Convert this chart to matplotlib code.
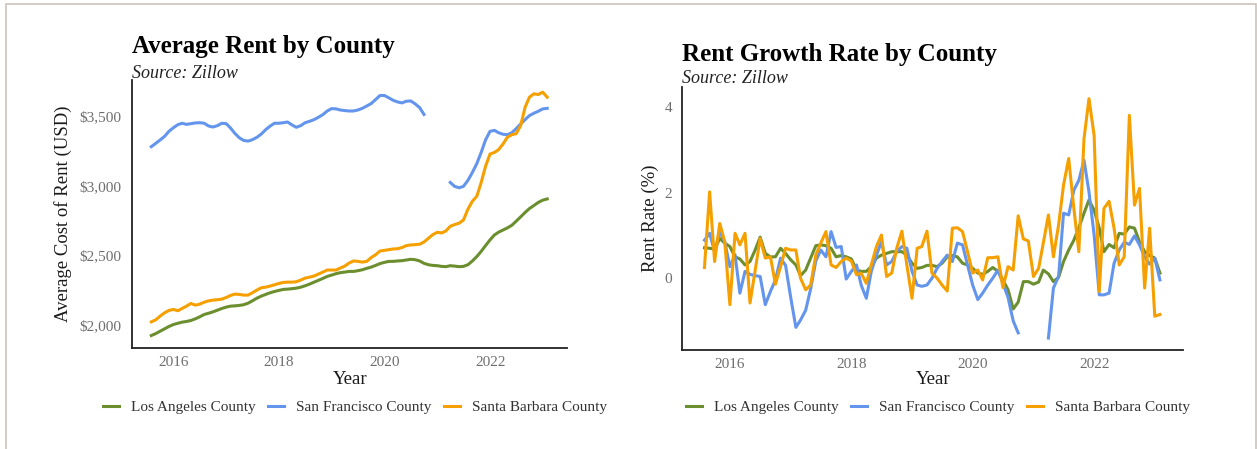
import numpy as np
import pandas as pd
import matplotlib
matplotlib.use("Agg")
import matplotlib.pyplot as plt
import matplotlib.dates as mdates
from matplotlib.ticker import FuncFormatter, FixedLocator
from matplotlib.patches import Rectangle

plt.rcParams['font.family'] = ['Liberation Serif', 'DejaVu Serif']

nan = np.nan

# monthly observations, Jul 2015 .. Jan 2023
dates = pd.date_range("2015-07-31", periods=91, freq="ME")

counties = ["Los Angeles County", "San Francisco County", "Santa Barbara County"]
colors = ["#6b8e2f", "#6495ed", "#f5a000"]

# average rent (USD)
rent_la = [1926, 1940, 1957, 1974, 1991, 2005, 2014, 2022, 2027, 2034,
           2046, 2060, 2077, 2086, 2096, 2108, 2120, 2130, 2137, 2139,
           2142, 2147, 2158, 2175, 2194, 2209, 2221, 2233, 2242, 2250,
           2257, 2259, 2262, 2266, 2273, 2283, 2295, 2309, 2322, 2336,
           2350, 2360, 2370, 2377, 2381, 2386, 2386, 2391, 2398, 2408,
           2417, 2429, 2442, 2451, 2458, 2458, 2461, 2463, 2468, 2473,
           2470, 2461, 2444, 2434, 2429, 2427, 2422, 2420, 2427, 2424,
           2420, 2422, 2434, 2461, 2492, 2530, 2571, 2612, 2648, 2667,
           2683, 2698, 2717, 2746, 2777, 2809, 2837, 2859, 2881, 2897,
           2906]
rent_sf = [3281, 3305, 3329, 3355, 3391, 3417, 3439, 3449, 3441, 3446,
           3451, 3453, 3449, 3429, 3422, 3432, 3449, 3446, 3413, 3377,
           3345, 3326, 3321, 3331, 3348, 3372, 3403, 3429, 3449, 3449,
           3453, 3458, 3437, 3420, 3432, 3453, 3463, 3475, 3492, 3511,
           3537, 3554, 3552, 3544, 3540, 3537, 3537, 3544, 3556, 3573,
           3590, 3619, 3648, 3648, 3631, 3614, 3602, 3595, 3607, 3609,
           3588, 3561, 3512, nan, nan, nan, nan, nan, 3024, 2996,
           2986, 2996, 3039, 3096, 3158, 3240, 3329, 3391, 3398, 3381,
           3370, 3367, 3381, 3410, 3444, 3475, 3504, 3521, 3535, 3552,
           3556]
rent_sb = [2024, 2039, 2065, 2089, 2106, 2113, 2104, 2120, 2137, 2156,
           2144, 2151, 2165, 2175, 2180, 2183, 2187, 2199, 2214, 2223,
           2221, 2216, 2216, 2233, 2252, 2269, 2273, 2281, 2290, 2300,
           2307, 2309, 2309, 2312, 2324, 2338, 2345, 2353, 2367, 2381,
           2396, 2396, 2396, 2410, 2424, 2446, 2461, 2458, 2453, 2458,
           2485, 2506, 2532, 2537, 2542, 2547, 2549, 2557, 2571, 2576,
           2578, 2581, 2597, 2624, 2650, 2667, 2662, 2676, 2710, 2722,
           2732, 2755, 2832, 2890, 2924, 3024, 3140, 3228, 3240, 3259,
           3300, 3348, 3367, 3374, 3432, 3564, 3636, 3660, 3655, 3672,
           3636]

# month over month rent growth (%)
growth_la = [0.71, 0.70, 0.68, 0.93, 0.82, 0.74, 0.50, 0.45, 0.31, 0.39,
             0.66, 0.96, 0.58, 0.50, 0.50, 0.70, 0.58, 0.43, 0.31, 0.06,
             0.19, 0.47, 0.76, 0.78, 0.76, 0.70, 0.50, 0.53, 0.50, 0.45,
             0.19, 0.16, 0.16, 0.27, 0.47, 0.54, 0.58, 0.62, 0.62, 0.62,
             0.54, 0.35, 0.23, 0.25, 0.30, 0.30, 0.27, 0.35, 0.50, 0.53,
             0.50, 0.35, 0.31, 0.23, 0.12, 0.09, 0.16, 0.25, 0.16, -0.04,
             -0.27, -0.72, -0.56, -0.08, -0.08, -0.14, -0.09, 0.19, 0.10, -0.08,
             0.02, 0.39, 0.66, 0.89, 1.18, 1.52, 1.83, 1.59, 1.17, 0.62,
             0.79, 0.71, 1.05, 1.03, 1.20, 1.17, 0.85, 0.62, 0.53, 0.47,
             0.12]
growth_sf = [0.89, 1.05, 0.62, 1.09, 0.85, 0.27, 0.55, -0.35, 0.16, 0.09,
             0.06, 0.04, -0.62, -0.31, -0.04, 0.47, 0.30, -0.45, -1.15, -0.98,
             -0.75, -0.25, 0.40, 0.66, 0.50, 1.09, 0.72, 0.74, -0.02, 0.16,
             0.31, -0.16, -0.47, 0.16, 0.54, 0.85, 0.31, 0.39, 0.62, 0.74,
             0.70, 0.16, -0.16, -0.19, -0.16, 0.00, 0.23, 0.39, 0.54, 0.39,
             0.82, 0.78, 0.31, -0.16, -0.50, -0.35, -0.16, 0.00, 0.19, -0.12,
             -0.45, -1.00, -1.28, nan, nan, nan, nan, nan, -1.40, -0.23,
             0.04, 1.52, 1.48, 2.06, 2.29, 2.76, 2.02, 1.01, -0.39, -0.39,
             -0.35, 0.35, 0.66, 0.84, 0.79, 0.99, 0.78, 0.50, 0.33, 0.47,
             -0.04]
growth_sb = [0.25, 2.02, 0.39, 1.28, 0.85, -0.62, 1.05, 0.78, 1.05, -0.58,
             0.18, 0.93, 0.47, 0.50, -0.14, 0.27, 0.70, 0.66, 0.66, 0.00,
             -0.27, -0.16, 0.54, 0.82, 1.09, 0.31, 0.25, 0.39, 0.47, 0.40,
             0.08, 0.12, -0.12, 0.31, 0.74, 1.01, 0.04, 0.12, 0.70, 1.10,
             0.31, -0.47, 0.70, 0.74, 1.10, 0.12, 0.00, -0.16, -0.30, 1.17,
             1.18, 1.09, 0.62, 0.12, 0.19, -0.04, 0.48, 0.48, 0.50, -0.22,
             0.27, 0.19, 1.46, 0.92, 0.87, 0.04, 0.23, 0.82, 1.48, 0.50,
             1.24, 2.18, 2.80, 1.63, 0.62, 3.26, 4.20, 3.34, -0.31, 1.63,
             1.80, 1.17, 0.31, 0.50, 3.81, 1.71, 2.10, -0.23, 1.17, -0.89,
             -0.85]

rent_ticks = [2000, 2500, 3000, 3500]
growth_ticks = [0, 2, 4]

W, H = 1257, 449
fig = plt.figure(figsize=(W / 100, H / 100), dpi=100)

# light frame around the whole picture
fig.patches.append(Rectangle((6 / W, -0.05), 1249.5 / W, 1.05 - 3.5 / H,
                             transform=fig.transFigure, fill=False,
                             edgecolor="#cdc3ba", linewidth=1.2))

ax1 = fig.add_axes([131.5 / W, 1 - 347.7 / H, (567 - 131.5) / W, (347.7 - 80) / H])
ax2 = fig.add_axes([681.7 / W, 1 - 350 / H, (1182.7 - 681.7) / W, (350 - 86.7) / H])

for vals, c in zip([rent_la, rent_sf, rent_sb], colors):
    ax1.plot(dates, vals, color=c, lw=2.2)
for vals, c in zip([growth_la, growth_sf, growth_sb], colors):
    ax2.plot(dates, vals, color=c, lw=2.2)

ax1.yaxis.set_major_locator(FixedLocator(rent_ticks))
ax1.yaxis.set_major_formatter(FuncFormatter(lambda v, p: "$" + format(int(v), ",")))
ax2.yaxis.set_major_locator(FixedLocator(growth_ticks))

for ax in (ax1, ax2):
    ax.margins(x=0.05, y=0.05)
    ax.xaxis.set_major_locator(mdates.YearLocator(2))
    ax.xaxis.set_major_formatter(mdates.DateFormatter("%Y"))
    for s in ("top", "right"):
        ax.spines[s].set_visible(False)
    for s in ("left", "bottom"):
        ax.spines[s].set_color("#222222")
        ax.spines[s].set_linewidth(1.3)
    ax.tick_params(axis="both", length=0, labelsize=11, colors="#6e6e6e")
    ax.tick_params(axis="x", pad=6)
    ax.tick_params(axis="y", pad=7)
    ax.set_facecolor("white")

# titles and subtitles
fig.text(132 / W, 1 - 53 / H, "Average Rent by County", fontsize=18,
         fontweight="bold", va="baseline", ha="left")
fig.text(132 / W, 1 - 78 / H, "Source: Zillow", fontsize=13, style="italic",
         va="baseline", ha="left", color="#222222")
fig.text(682 / W, 1 - 61.5 / H, "Rent Growth Rate by County", fontsize=18,
         fontweight="bold", va="baseline", ha="left")
fig.text(682 / W, 1 - 83 / H, "Source: Zillow", fontsize=13, style="italic",
         va="baseline", ha="left", color="#222222")

# axis titles
fig.text(63 / W, 1 - 214 / H, "Average Cost of Rent (USD)", fontsize=13.5,
         rotation=90, ha="center", va="center", color="#1a1a1a")
fig.text(650 / W, 1 - 218 / H, "Rent Rate (%)", fontsize=13.5,
         rotation=90, ha="center", va="center", color="#1a1a1a")
fig.text(350 / W, 1 - 379 / H, "Year", fontsize=13.5, ha="center", va="center",
         color="#1a1a1a")
fig.text(933 / W, 1 - 380 / H, "Year", fontsize=13.5, ha="center", va="center",
         color="#1a1a1a")

for ax, cx in ((ax1, 355), (ax2, 938)):
    handles = ax.get_lines()
    leg = ax.legend(handles, counties, loc="center",
                    bbox_to_anchor=(cx / W, 1 - 407 / H),
                    bbox_transform=fig.transFigure, ncol=3, frameon=False,
                    fontsize=11, handlelength=1.0, handletextpad=0.8,
                    columnspacing=0.85, borderpad=0)
    for t in leg.get_texts():
        t.set_color("#333333")

fig.savefig("out.png", dpi=100, facecolor="white")
